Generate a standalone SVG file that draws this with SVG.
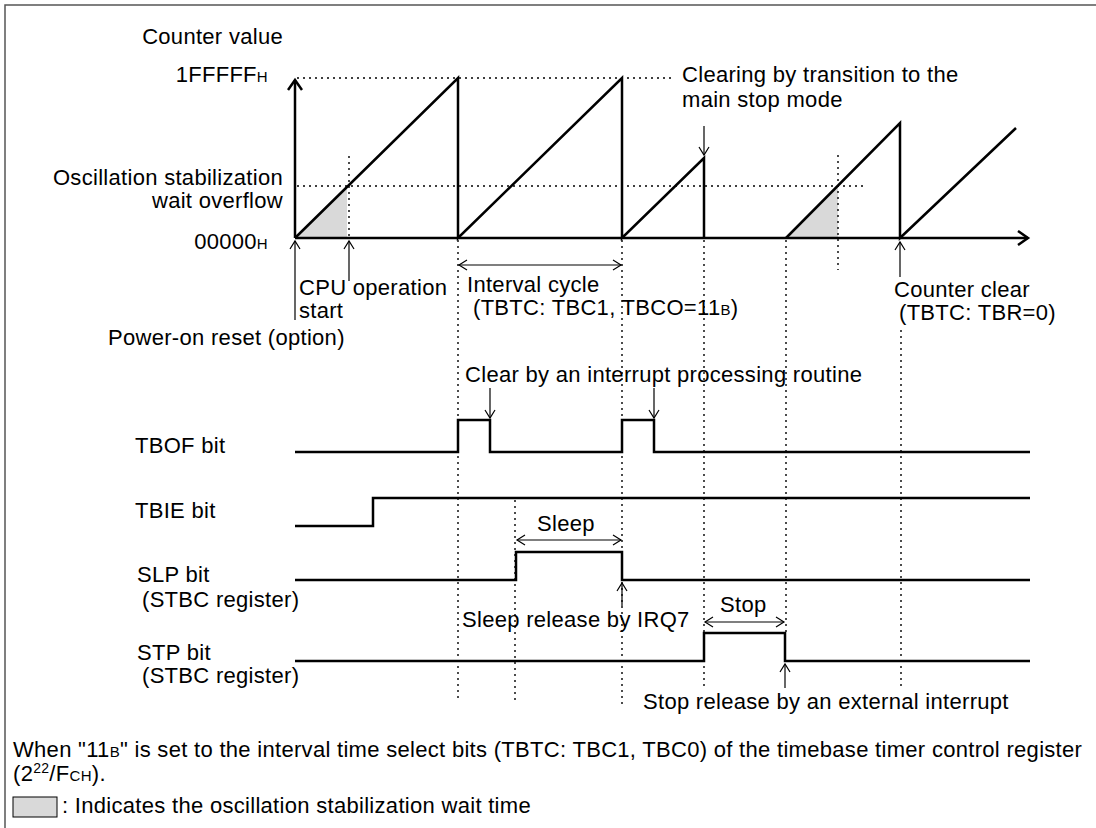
<svg xmlns="http://www.w3.org/2000/svg" width="1096" height="828" viewBox="0 0 1096 828">
<style>
text{font-family:"Liberation Sans",Arial,sans-serif;font-size:22px;letter-spacing:0.3px;fill:#000}
.s{font-size:15px}
.sig{fill:none;stroke:#000;stroke-width:2.5}
.dot{fill:none;stroke:#000;stroke-width:1.4;stroke-dasharray:2 4}
.thin{fill:none;stroke:#000;stroke-width:1.2}
.shade{fill:#d9d9d9}
</style>
<defs>
<marker id="ah" markerWidth="12" markerHeight="12" refX="10" refY="6" orient="auto-start-reverse" markerUnits="userSpaceOnUse">
<path d="M2,1 L10,6 L2,11" fill="none" stroke="#000" stroke-width="1.2"/>
</marker>
<marker id="axh" markerWidth="16" markerHeight="16" refX="13" refY="8" orient="auto" markerUnits="userSpaceOnUse">
<path d="M3,1 L13,8 L3,15" fill="none" stroke="#000" stroke-width="2.5"/>
</marker>
</defs>
<rect x="5" y="5" width="1100" height="830" fill="#fff" stroke="#555" stroke-width="1.5"/>

<g id="shading">
<polygon class="shade" points="295,238 347,186 347,238"/>
<polygon class="shade" points="786,238 838,186 838,238"/>
</g>

<g id="guides">
<path class="dot" d="M297,78 H672 M297,186 H867 M349,156 V238 M838,155 V270"/>
<path class="dot" d="M458,240 V700 M515,500 V700 M622,240 V708 M704,240 V687 M786,240 V633 M901,330 V687"/>
</g>

<g id="counter">
<path class="sig" d="M295,238 V80" marker-end="url(#axh)"/>
<path class="sig" d="M295,238 H1028" marker-end="url(#axh)"/>
<path class="sig" d="M295,238 L458,78 V238 L622,78 V238 L704,158 V238 M786,238 L900,123 V238 L1016,128"/>
</g>

<g id="signals">
<path class="sig" d="M295,452 H458 V420 H490 V452 H622 V420 H654 V452 H1030"/>
<path class="sig" d="M295,526 H373 V498 H1030"/>
<path class="sig" d="M295,580 H516 V552 H622 V580 H1030"/>
<path class="sig" d="M295,661 H704 V633 H785 V661 H1030"/>
</g>

<g id="connectors">
<path class="thin" d="M295,320 V241" marker-end="url(#ah)"/>
<path class="thin" d="M349,281 V241" marker-end="url(#ah)"/>
<path class="thin" d="M459,265 H621" marker-start="url(#ah)" marker-end="url(#ah)"/>
<path class="thin" d="M704,126 V155" marker-end="url(#ah)"/>
<path class="thin" d="M900,277 V242" marker-end="url(#ah)"/>
<path class="thin" d="M490,388 V418" marker-end="url(#ah)"/>
<path class="thin" d="M654,388 V418" marker-end="url(#ah)"/>
<path class="thin" d="M517,540 H621" marker-start="url(#ah)" marker-end="url(#ah)"/>
<path class="thin" d="M622,606 V583" marker-end="url(#ah)"/>
<path class="thin" d="M705,622 H784" marker-start="url(#ah)" marker-end="url(#ah)"/>
<path class="thin" d="M785,688 V664" marker-end="url(#ah)"/>
</g>

<g id="labels">
<text x="283" y="44" text-anchor="end">Counter value</text>
<text x="268" y="82" text-anchor="end">1FFFFF<tspan class="s">H</tspan></text>
<text x="283" y="185" text-anchor="end">Oscillation stabilization</text>
<text x="283" y="208" text-anchor="end">wait overflow</text>
<text x="268" y="249" text-anchor="end">00000<tspan class="s">H</tspan></text>
<text x="299" y="295">CPU operation</text>
<text x="299" y="318">start</text>
<text x="108" y="345">Power-on reset (option)</text>
<text x="467" y="292">Interval cycle</text>
<text x="473" y="315">(TBTC: TBC1, TBCO=11<tspan class="s">B</tspan>)</text>
<text x="682" y="82">Clearing by transition to the</text>
<text x="682" y="107">main stop mode</text>
<text x="894" y="297">Counter clear</text>
<text x="899" y="320">(TBTC: TBR=0)</text>
<text x="465" y="382">Clear by an interrupt processing routine</text>
<text x="135" y="453">TBOF bit</text>
<text x="135" y="518">TBIE bit</text>
<text x="537" y="531">Sleep</text>
<text x="137" y="582">SLP bit</text>
<text x="142" y="607">(STBC register)</text>
<text x="462" y="627">Sleep release by IRQ7</text>
<text x="720" y="612">Stop</text>
<text x="137" y="660">STP bit</text>
<text x="142" y="683">(STBC register)</text>
<text x="643" y="709">Stop release by an external interrupt</text>
</g>

<g id="notes">
<text x="13" y="757">When "11<tspan class="s">B</tspan>" is set to the interval time select bits (TBTC: TBC1, TBC0) of the timebase timer control register</text>
<text x="13" y="781">(2<tspan font-size="14" dy="-8">22</tspan><tspan dy="8">/F</tspan><tspan class="s">CH</tspan>).</text>
<rect x="13" y="797" width="44" height="20" fill="#d9d9d9" stroke="#000" stroke-width="1"/>
<text x="62" y="813">: Indicates the oscillation stabilization wait time</text>
</g>
</svg>
